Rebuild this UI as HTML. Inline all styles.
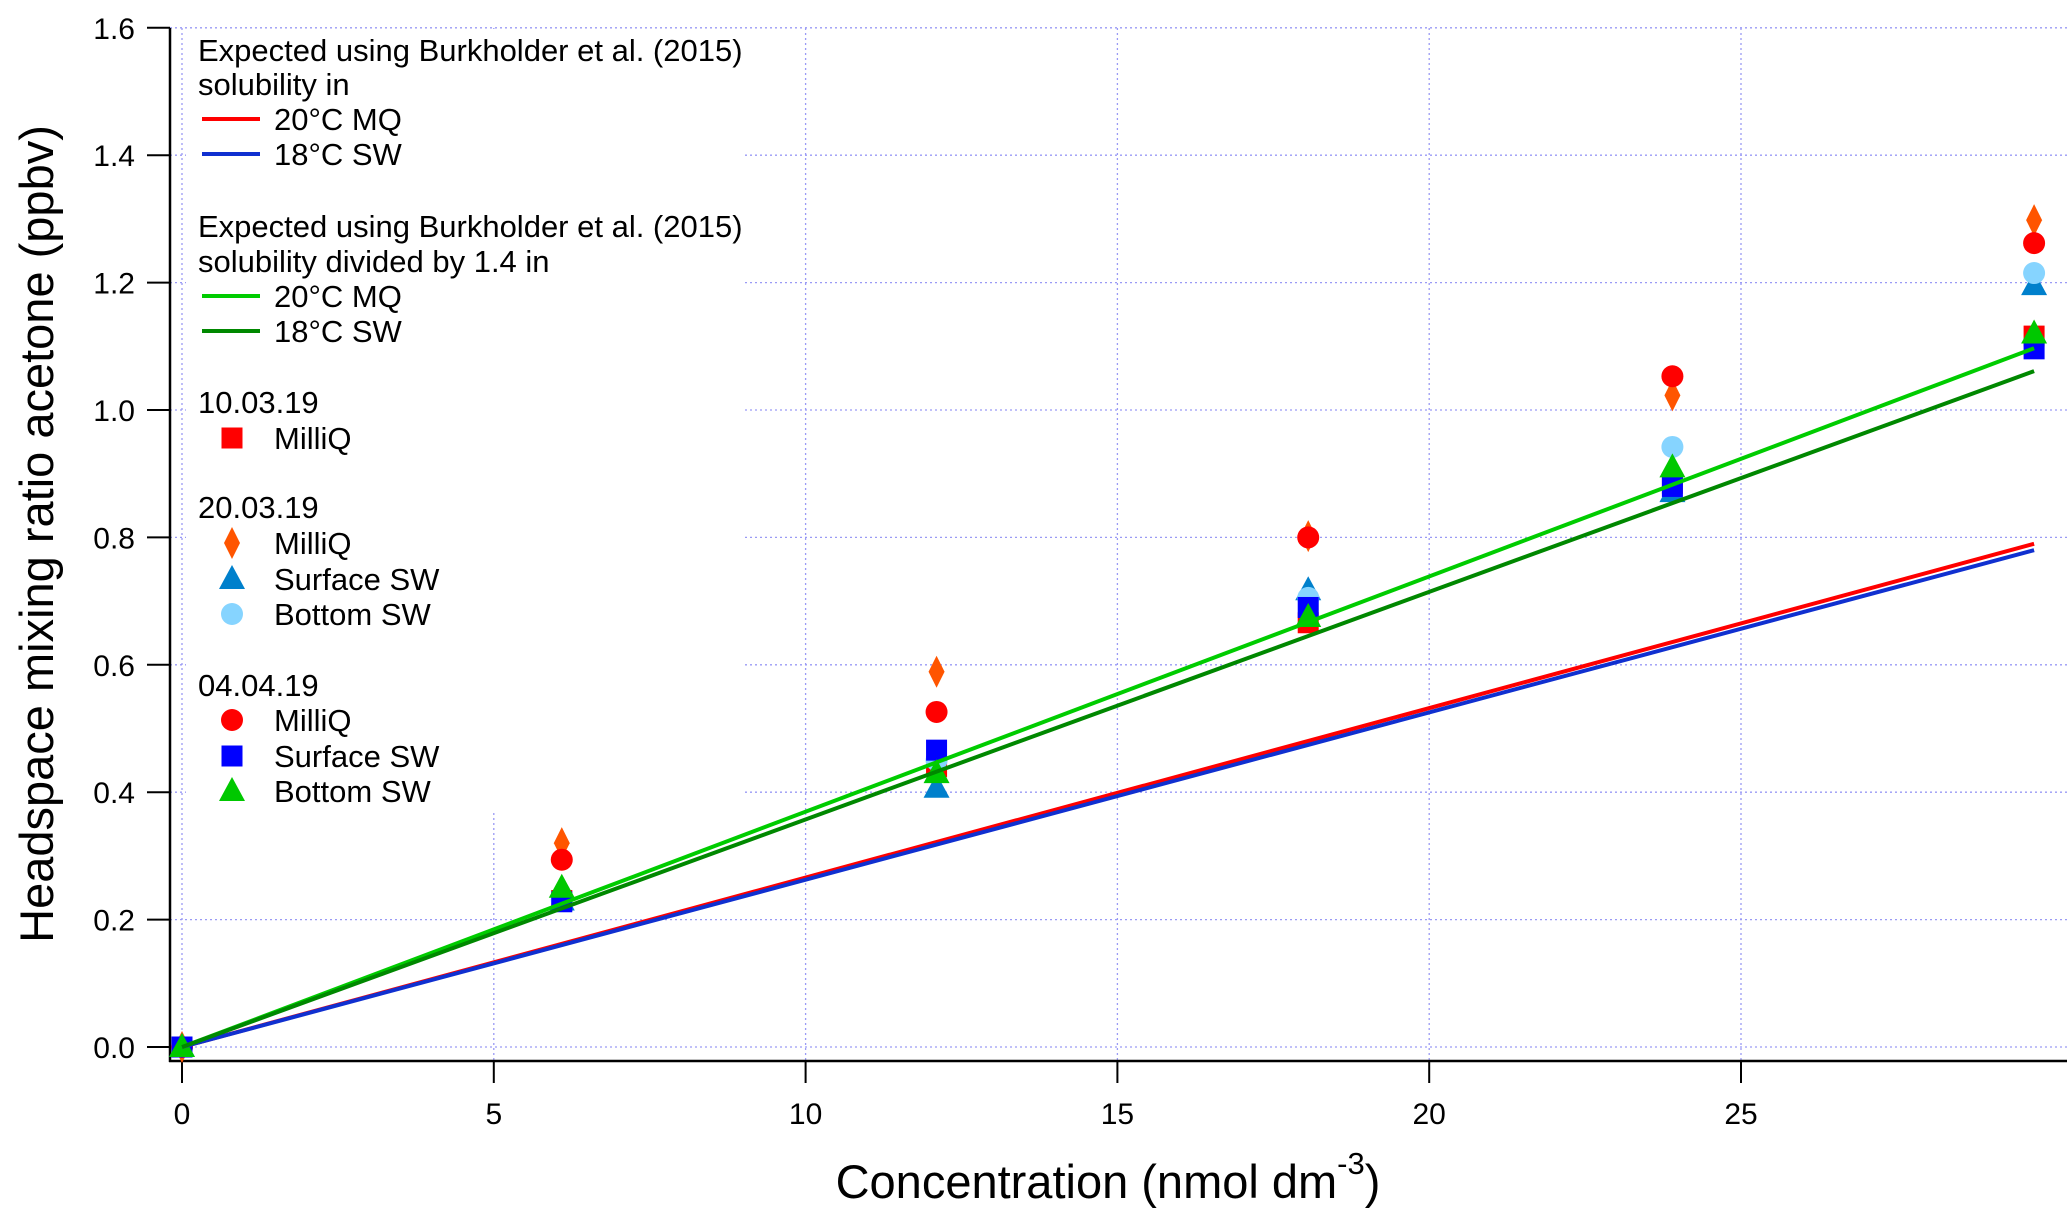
<!DOCTYPE html>
<html><head><meta charset="utf-8"><style>
html,body{margin:0;padding:0;background:#fff;}
svg{display:block;font-family:"Liberation Sans",sans-serif;}
</style></head><body>
<svg id="chart" width="2067" height="1226" viewBox="0 0 2067 1226">
<g id="grid"></g>
<g id="axes"></g>
<g id="legendbox"></g>
<g id="marks"></g>
<g id="lines"></g>
<g id="legend"></g>
</svg>
<script>
const xs = [0, 6.09, 12.1, 18.06, 23.9, 29.7];
const mq1003 = [0, 0.23, 0.44, 0.666, 0.885, 1.116];
const mq2003 = [0, 0.32, 0.589, 0.802, 1.023, 1.298];
const ssw2003 = [0, 0.23, 0.407, 0.717, 0.871, 1.196];
const bsw2003 = [0, 0.23, 0.45, 0.705, 0.942, 1.215];
const mq0404 = [0, 0.294, 0.526, 0.80, 1.053, 1.262];
const ssw0404 = [0, 0.228, 0.466, 0.69, 0.88, 1.096];
const bsw0404 = [0, 0.25, 0.43, 0.675, 0.91, 1.12];
const lineEnds = [0.79, 0.78, 1.097, 1.061];
const lineX = [0, 29.7];
const xTicks = [0, 5, 10, 15, 20, 25];
const yTicks = [0, 0.2, 0.4, 0.6, 0.8, 1.0, 1.2, 1.4, 1.6];

const NS = "http://www.w3.org/2000/svg";
const X = v => 182 + v * 62.36;
const Y = v => 1047 - v * 637;
function mk(tag, attrs, parent, text) {
  const e = document.createElementNS(NS, tag);
  for (const k in attrs) e.setAttribute(k, attrs[k]);
  if (text !== undefined) e.textContent = text;
  parent.appendChild(e);
  return e;
}
const grid = document.getElementById('grid'), axes = document.getElementById('axes');
const marks = document.getElementById('marks'), lines = document.getElementById('lines');
const legend = document.getElementById('legend'), lbox = document.getElementById('legendbox');

xTicks.forEach(t => {
  const g = mk('line', {x1: X(t), x2: X(t), y1: 28, y2: 1061, stroke: '#9a9af5', 'stroke-width': 1.3, 'stroke-dasharray': '2,3'}, grid);
  
  
  const tk = mk('line', {x1: X(t), x2: X(t), y1: 1061, y2: 1083, stroke: '#000', 'stroke-width': 2}, axes);
  
  
  const lb = mk('text', {x: X(t), y: 1124, 'font-size': 30, 'text-anchor': 'middle'}, axes, String(t));
  
  
});
yTicks.forEach(t => {
  const g = mk('line', {x1: 170, x2: 2067, y1: Y(t), y2: Y(t), stroke: '#9a9af5', 'stroke-width': 1.3, 'stroke-dasharray': '2,3'}, grid);
  
  
  const tk = mk('line', {x1: 147, x2: 170, y1: Y(t), y2: Y(t), stroke: '#000', 'stroke-width': 2}, axes);
  
  
  const lb = mk('text', {x: 135, y: Y(t) + 11, 'font-size': 30, 'text-anchor': 'end'}, axes, t.toFixed(1));
  
  
});
const ax1 = mk('line', {x1: 170, x2: 170, y1: 28, y2: 1062, stroke: '#000', 'stroke-width': 2.5}, axes);


const ax2 = mk('line', {x1: 169, x2: 2067, y1: 1061, y2: 1061, stroke: '#000', 'stroke-width': 2.5}, axes);


const xt = mk('text', {x: 1108, y: 1198, 'font-size': 47, 'text-anchor': 'middle'}, axes);
xt.innerHTML = 'Concentration (nmol dm<tspan dy="-24" font-size="31">-3</tspan><tspan dy="24">)</tspan>';


const yt = mk('text', {x: 0, y: 0, 'font-size': 47, 'text-anchor': 'middle', transform: 'translate(53,534) rotate(-90)'}, axes, 'Headspace mixing ratio acetone (ppbv)');



const bg = mk('rect', {x: 186, y: 29, width: 556, height: 781, fill: '#fff'}, lbox);



function marker(type, color, cx, cy, parent) {
  const s = 10.5;
  if (type === 'square') return mk('rect', {x: cx - s, y: cy - s, width: 2 * s, height: 2 * s, fill: color}, parent);
  if (type === 'circle') return mk('circle', {cx: cx, cy: cy, r: s + 0.5, fill: color}, parent);
  if (type === 'diamond') return mk('polygon', {points: `${cx},${cy - 16} ${cx + 8},${cy} ${cx},${cy + 16} ${cx - 8},${cy}`, fill: color}, parent);
  return mk('polygon', {points: `${cx},${cy - 14} ${cx + 13},${cy + 10} ${cx - 13},${cy + 10}`, fill: color}, parent);
}
const series = [
  ['mq-10-03-19', mq1003, 'square', '#ff0000'],
  ['mq-20-03-19', mq2003, 'diamond', '#ff5500'],
  ['surface-sw-20-03-19', ssw2003, 'triangle', '#0080cc'],
  ['bottom-sw-20-03-19', bsw2003, 'circle', '#86d4ff'],
  ['mq-04-04-19', mq0404, 'circle', '#ff0000'],
  ['surface-sw-04-04-19', ssw0404, 'square', '#0000ff'],
  ['bottom-sw-04-04-19', bsw0404, 'triangle', '#00c800'],
];
series.forEach(([name, vals, type, col]) => {
  vals.forEach((v, i) => {
    const m = marker(type, col, X(xs[i]), Y(v), marks);
    
    
  });
});
const lineCols = ['#ff0000', '#1030d0', '#00cc00', '#008800'];
const lineNames = ['line-20c-mq', 'line-18c-sw', 'line-20c-mq-div', 'line-18c-sw-div'];
lineEnds.forEach((v, i) => {
  const l = mk('line', {x1: X(lineX[0]), y1: Y(0), x2: X(lineX[1]), y2: Y(v), stroke: lineCols[i], 'stroke-width': 4}, lines);
  
  
});

function ltext(y, x, t) {
  const e = mk('text', {x: x, y: y + 11, 'font-size': 31}, legend, t);
  
  
}
[[50, 'Expected using Burkholder et al. (2015)'], [84, 'solubility in'],
 [226, 'Expected using Burkholder et al. (2015)'], [261, 'solubility divided by 1.4 in'],
 [402, '10.03.19'], [507, '20.03.19'], [685, '04.04.19']].forEach(([y, t]) => ltext(y, 198, t));
[[119, 0, '20°C MQ'], [154, 1, '18°C SW'], [296, 2, '20°C MQ'], [331, 3, '18°C SW']].forEach(([y, i, t]) => {
  const l = mk('line', {x1: 202, x2: 260, y1: y, y2: y, stroke: lineCols[i], 'stroke-width': 4}, legend);
  
  
  ltext(y, 274, t);
});
[[438, 0, 'MilliQ'], [543, 1, 'MilliQ'], [579, 2, 'Surface SW'], [614, 3, 'Bottom SW'],
 [720, 4, 'MilliQ'], [756, 5, 'Surface SW'], [791, 6, 'Bottom SW']].forEach(([y, i, t]) => {
  const m = marker(series[i][2], series[i][3], 232, y, legend);
  
  
  ltext(y, 274, t);
});
</script>
</body></html>
